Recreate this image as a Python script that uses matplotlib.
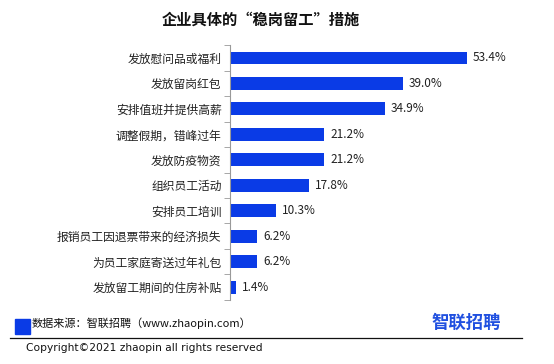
import matplotlib

matplotlib.use("Agg")
matplotlib.rcParams["font.family"] = ["Noto Sans CJK SC", "DejaVu Sans"]
matplotlib.rcParams["axes.unicode_minus"] = False
import matplotlib.pyplot as plt
from matplotlib.lines import Line2D
from matplotlib.patches import Rectangle

categories = [
    "发放慰问品或福利",
    "发放留岗红包",
    "安排值班并提供高薪",
    "调整假期，错峰过年",
    "发放防疫物资",
    "组织员工活动",
    "安排员工培训",
    "报销员工因退票带来的经济损失",
    "为员工家庭寄送过年礼包",
    "发放留工期间的住房补贴",
]
values = [53.4, 39.0, 34.9, 21.2, 21.2, 17.8, 10.3, 6.2, 6.2, 1.4]

BLUE = "#0a3be6"

fig = plt.figure(figsize=(5.54, 3.64), dpi=100)
ax = fig.add_axes([0.415, 0.176, 0.48, 0.70])

ypos = list(range(len(categories)))
ax.barh(ypos, values, height=0.5, color=BLUE)
for y, v in zip(ypos, values):
    ax.text(v + 1.4, y, f"{v:.1f}%", va="center", ha="left", fontsize=8.5, color="#222222")

ax.set_xlim(0, 60)
ax.set_ylim(len(categories) - 0.5, -0.5)
ax.set_yticks(ypos)
ax.set_yticklabels(categories, fontsize=8.5, color="#222222")
ax.set_yticks([i - 0.5 for i in range(len(categories) + 1)], minor=True)
ax.tick_params(axis="y", which="major", length=0, pad=6)
ax.tick_params(axis="y", which="minor", length=4, color="#999999", direction="out")
ax.set_xticks([])
for s in ("top", "right", "bottom"):
    ax.spines[s].set_visible(False)
ax.spines["left"].set_color("#999999")

fig.text(261 / 554, 1 - 20 / 364, "企业具体的\u201c稳岗留工\u201d措施", ha="center", va="center",
         fontsize=11, fontweight="bold", color="#111111")

# footer
fig.patches.append(Rectangle((15 / 554, 1 - 334 / 364), 15 / 554, 15 / 364,
                             transform=fig.transFigure, color=BLUE))
fig.text(32 / 554, 1 - 323 / 364, "数据来源：智联招聘（www.zhaopin.com）", ha="left", va="center",
         fontsize=8, color="#111111")
fig.lines.append(Line2D([10 / 554, 522 / 554], [1 - 338 / 364] * 2, transform=fig.transFigure,
                        color="#111111", linewidth=0.9))
fig.text(26 / 554, 1 - 348 / 364, "Copyright\u00a92021 zhaopin all rights reserved", ha="left",
         va="center", fontsize=7.7, color="#111111", family=["DejaVu Sans"])
fig.text(466 / 554, 1 - 323 / 364, "智联招聘", ha="center", va="center", fontsize=12.5,
         fontweight="bold", color="#2050e0")

fig.savefig("out.png", dpi=100, facecolor="white")
